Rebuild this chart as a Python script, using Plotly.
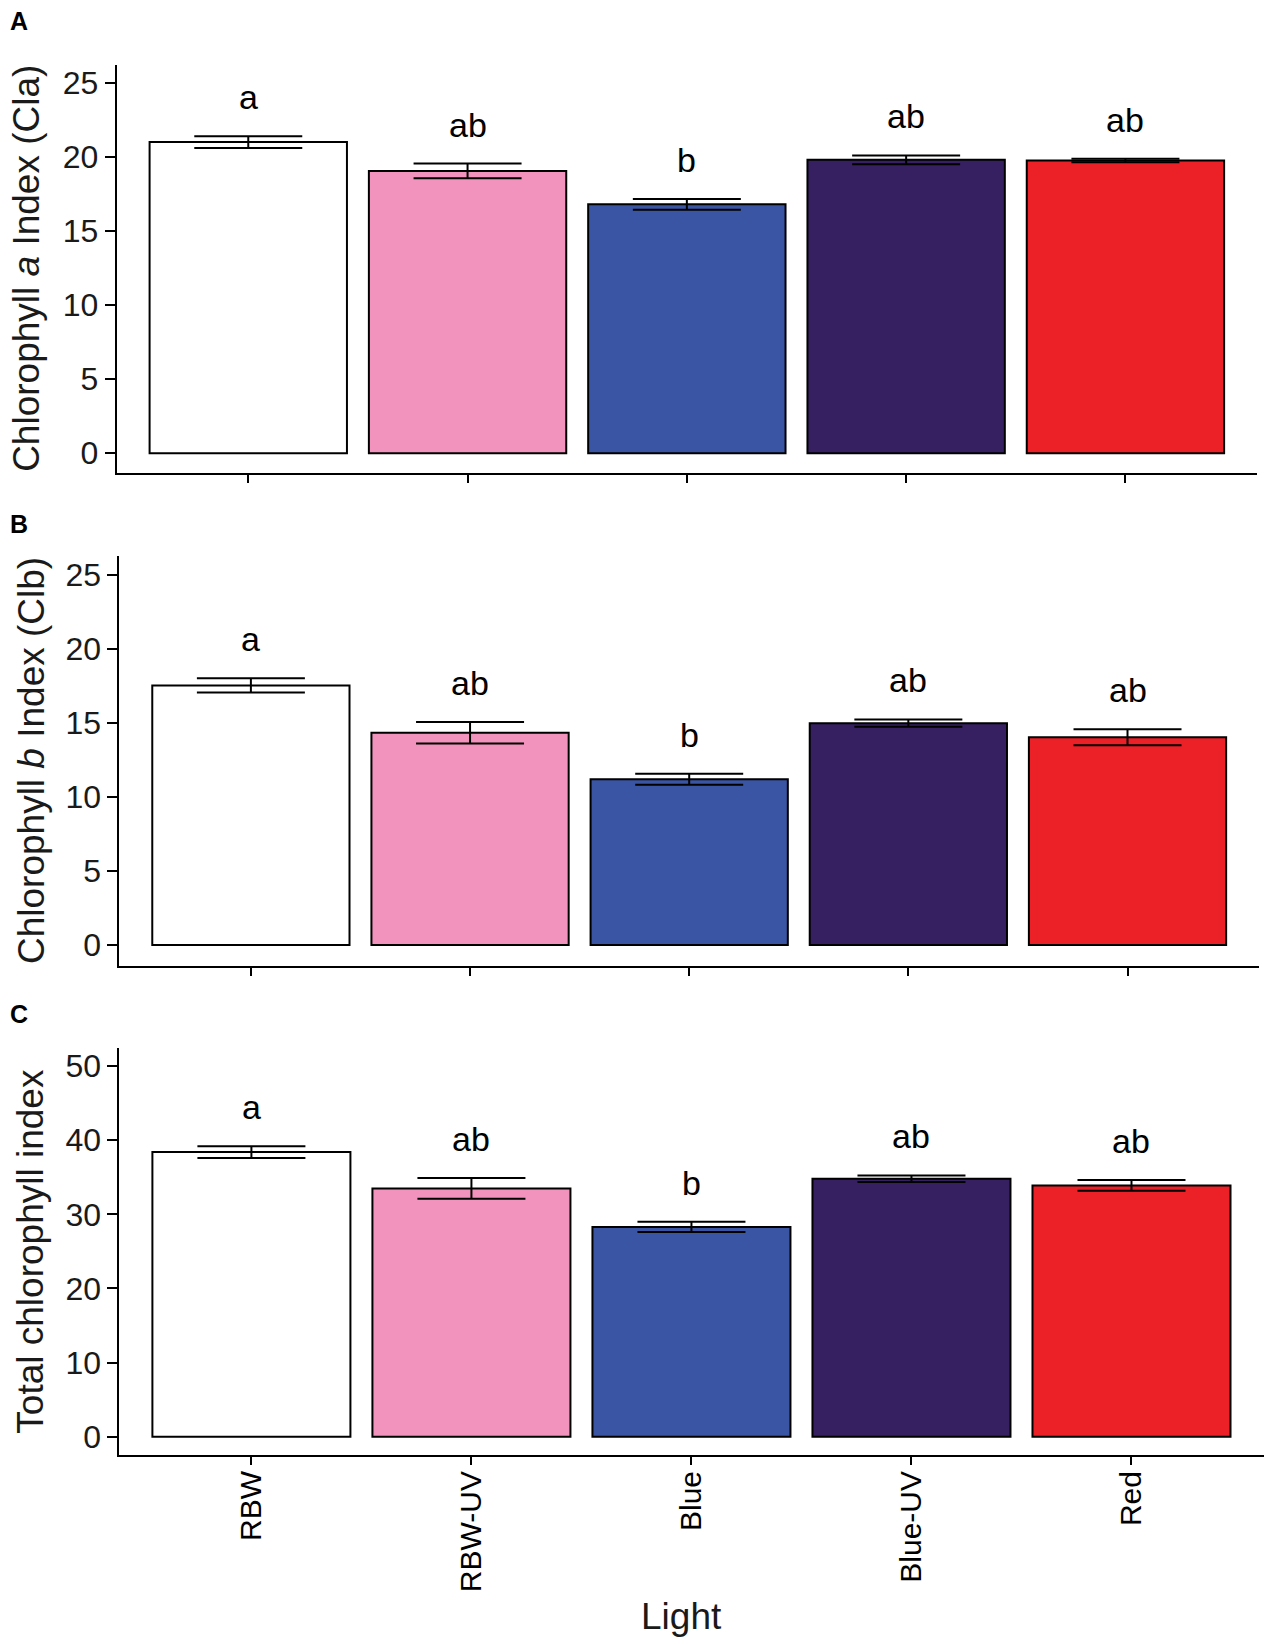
import plotly.graph_objects as go
from plotly.subplots import make_subplots

# data
categories = ["RBW", "RBW-UV", "Blue", "Blue-UV", "Red"]
bar_colors = ["#FFFFFF", "#F293BD", "#3A55A4", "#362062", "#EC2027"]
letters = ["a", "ab", "b", "ab", "ab"]

cla_mean = [21.0, 19.05, 16.8, 19.8, 19.75]
cla_se = [0.4, 0.5, 0.36, 0.3, 0.12]

clb_mean = [17.55, 14.35, 11.2, 15.0, 14.05]
clb_se = [0.48, 0.72, 0.37, 0.25, 0.54]

tot_mean = [38.4, 33.5, 28.3, 34.8, 33.9]
tot_se = [0.8, 1.4, 0.7, 0.45, 0.72]

W, H = 1272, 1644
FONT = "Liberation Sans, Arial, sans-serif"

panels = [
    # mean, se, y range, dtick, x px domain, y px domain, title, title x px, label, label y px
    (cla_mean, cla_se, [-1.31, 26.2], 5, (116.7, 1257), (65, 472.7),
     "Chlorophyll <i>a</i> Index (Cla)", 27, "A", 5),
    (clb_mean, clb_se, [-1.42, 26.3], 5, (119.4, 1259), (556, 966),
     "Chlorophyll <i>b</i> Index (Clb)", 31, "B", 508),
    (tot_mean, tot_se, [-2.47, 52.4], 10, (119.4, 1263.5), (1048.3, 1455),
     "Total chlorophyll index", 31, "C", 998),
]

fig = make_subplots(rows=3, cols=1)
annotations = []

for i, (mean, se, yr, dt, xpx, ypx, ytitle, tx, lab, laby) in enumerate(panels):
    row = i + 1
    fig.add_trace(go.Bar(
        x=categories,
        y=mean,
        width=0.9,
        marker=dict(color=bar_colors, line=dict(color="black", width=2)),
        error_y=dict(type="data", array=se, color="black", thickness=2, width=54),
        showlegend=False,
        hoverinfo="skip",
    ), row=row, col=1)

    ax = "" if row == 1 else str(row)
    xd = [xpx[0] / W, xpx[1] / W]
    yd = [1 - ypx[1] / H, 1 - ypx[0] / H]

    fig.update_xaxes(
        domain=xd, range=[-0.6, 4.6], showline=True, linecolor="black", linewidth=2,
        ticks="outside", ticklen=8, tickwidth=2, tickcolor="black",
        showticklabels=(row == 3), tickangle=-90, showgrid=False, zeroline=False,
        ticklabelstandoff=-6,
        tickfont=dict(family=FONT, size=30, color="black"), automargin=False,
        row=row, col=1)
    fig.update_yaxes(
        domain=yd, range=yr, dtick=dt, tick0=0, showline=True, linecolor="black",
        linewidth=2, ticks="outside", ticklen=10, tickwidth=2, tickcolor="black",
        showgrid=False, zeroline=False, automargin=False,
        tickfont=dict(family=FONT, size=32, color="#1a1a1a"),
        row=row, col=1)

    # significance letters
    for c, m, s, t in zip(categories, mean, se, letters):
        annotations.append(dict(
            x=c, y=m + s, xref="x" + ax, yref="y" + ax, text=t, showarrow=False,
            yanchor="bottom", yshift=18, font=dict(family=FONT, size=34, color="black")))

    # y title
    annotations.append(dict(
        x=tx / W, y=1 - (ypx[0] + ypx[1]) / 2 / H, xref="paper", yref="paper",
        text=ytitle, textangle=-90, showarrow=False, xanchor="center", yanchor="middle",
        font=dict(family=FONT, size=37, color="#1a1a1a")))

    # panel letter
    annotations.append(dict(
        x=8 / W, y=1 - laby / H, xref="paper", yref="paper", text="<b>%s</b>" % lab,
        showarrow=False, xanchor="left", yanchor="top",
        font=dict(family=FONT, size=25, color="black")))

annotations.append(dict(
    x=681 / W, y=5 / H, xref="paper", yref="paper", text="Light",
    showarrow=False, xanchor="center", yanchor="bottom",
    font=dict(family=FONT, size=37, color="#1a1a1a")))

fig.update_layout(
    width=W, height=H,
    margin=dict(l=0, r=0, t=0, b=0),
    plot_bgcolor="white", paper_bgcolor="white",
    bargap=0.1,
    annotations=annotations,
)

# page body has a default 8px margin; drop it so the figure fills the window
fig.write_html("out.html", config={"displayModeBar": False},
               post_script="document.body.style.margin='0';document.body.style.overflow='hidden';")
